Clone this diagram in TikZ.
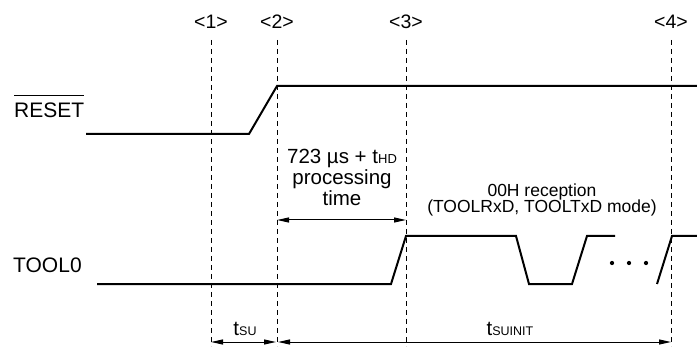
\documentclass[tikz,border=0pt]{standalone}
\usepackage{fontspec}
\setmainfont{Liberation Sans}
\usetikzlibrary{arrows.meta,positioning,calc}
\definecolor{Ink}{HTML}{000000}
\tikzset{
  sig/.style={draw=Ink,line width=2pt},
  guide/.style={draw=Ink,line width=1pt,dash pattern=on 5pt off 4pt},
  dim/.style={draw=Ink,line width=1pt,{Triangle[length=12pt,width=5pt]}-{Triangle[length=12pt,width=5pt]}},
  mk/.style={font=\fontsize{19.5}{22}\selectfont,inner sep=0pt},
  lbl/.style={font=\fontsize{21}{24}\selectfont,anchor=west,inner sep=0pt},
  nt/.style={font=\fontsize{20.5}{21}\selectfont,align=center,inner sep=0pt},
  pt/.style={circle,fill=Ink,inner sep=1.5pt},
}
\newcommand{\subt}[1]{{\fontsize{12.5}{14}\selectfont #1}}
\begin{document}
\begin{tikzpicture}[x=1pt,y=-1pt]
\path[use as bounding box] (0,0) rectangle (697,350);
% -markers and guides-
\foreach \x/\n in {211/1,277/2,406/3,671/4}{
  \node[mk] (m\n) at (\x,22) {<\n>};
  \coordinate (t\n) at (\x,40);
  \coordinate (b\n) at (\x,346);
  \draw[guide] (t\n) -- (b\n);
}
% -RESET-
\node[lbl] (rst) at (14,110) {RESET};
\draw[line width=1pt] ([yshift=7pt]rst.north west) -- ([yshift=7pt]rst.north east);
\draw[sig] (86,134) -- (249,134) -- (277,86) -- (697,86);
% -TOOL0-
\node[lbl] (tool) at (13,265) {TOOL0};
\draw[sig] (97,284) -- (391,284) -- (406,236) -- (516,236) -- (529,284) -- (572,284) -- (587,236) -- (615,236);
\node[pt] (d1) at (612,263) {};
\node[pt] (d2) at (629,263) {};
\node[pt] (d3) at (646,263) {};
\draw[sig] (657,284) -- (672,236) -- (697,236);
% -processing time-
\node[nt] (proc) at (342,177) {723 µs + t{\fontsize{13}{14}\selectfont HD}\\processing\\time};
\coordinate (p2) at (277,220);
\coordinate (p3) at (406,220);
\draw[dim] (p2) -- (p3);
\node[nt,font=\fontsize{17.5}{16.5}\selectfont] (rx) at (542,200) {00H reception\\(TOOLRxD, TOOLTxD mode)};
% -setup times-
\coordinate (s1) at (211,342);
\coordinate (s2) at (276,342);
\coordinate (s3) at (278,342);
\coordinate (s4) at (671,342);
\draw[dim] (s1) -- (s2);
\draw[dim] (s3) -- (s4);
\node[nt,anchor=base] (tsu) at (245,335) {t\subt{SU}};
\node[nt,anchor=base] (tsi) at (510,335) {t\subt{SUINIT}};
\end{tikzpicture}
\end{document}
